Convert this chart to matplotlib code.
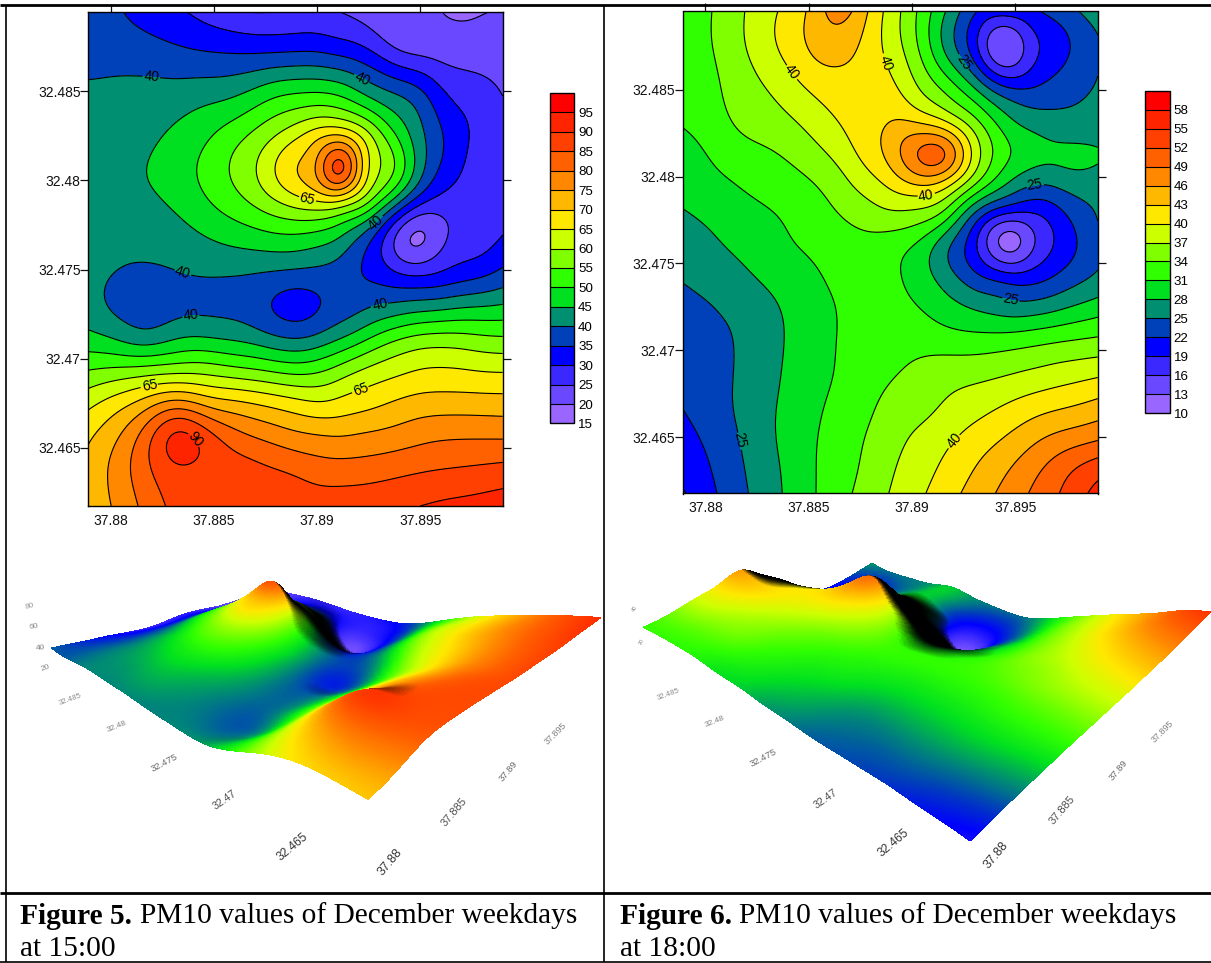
#!/usr/bin/env python3
"""PM10 values of December weekdays: contour maps and shaded surfaces, 15:00 and 18:00."""
import matplotlib
matplotlib.use("Agg")
import matplotlib.pyplot as plt
import matplotlib.tri as mtri
from matplotlib.collections import PolyCollection
from matplotlib.colors import LinearSegmentedColormap, Normalize
import numpy as np

plt.rcParams["font.family"] = ["Liberation Sans", "DejaVu Sans"]

W, H = 1211, 963

# colours of the 17 bands, low to high
band_colors = ["#9966FF", "#6A48FF", "#3A28FF", "#0000FF", "#0040B8", "#008F70",
               "#00E020", "#2FFF00", "#7FFF00", "#CCFF00", "#FFE800", "#FFB800",
               "#FF8800", "#FF6000", "#FF4000", "#FF2400", "#FF0000"]

# ── 15:00 ────────────────────────────────────────────────────────────────────
lon_15 = [37.87890, 37.88034, 37.88177, 37.88321, 37.88464, 37.88608, 37.88751, 37.88895,
          37.89039, 37.89114, 37.89182, 37.89326, 37.89469, 37.89613, 37.89756, 37.89900]
lat_15 = [32.48943, 32.48712, 32.48482, 32.48251, 32.48079, 32.47871, 32.47682, 32.47493,
          32.47304, 32.47098, 32.46926, 32.46755, 32.46585, 32.46377, 32.46175]
pm_15 = [
    [38.0, 35.5, 33.0, 31.0, 28.0, 25.5, 24.8, 26.0, 26.0, 25.0, 24.0, 21.5, 21.0, 19.9, 19.7, 20.2],
    [38.0, 38.0, 37.3, 36.1, 35.3, 34.9, 34.9, 35.2, 34.8, 33.7, 33.0, 27.8, 24.0, 23.0, 22.5, 22.0],
    [41.0, 41.3, 41.8, 42.2, 43.2, 44.5, 48.3, 50.5, 50.7, 49.5, 46.7, 41.5, 38.4, 30.5, 27.8, 25.0],
    [41.0, 42.0, 43.8, 46.2, 49.3, 53.5, 58.2, 64.2, 70.0, 70.5, 67.5, 55.0, 43.5, 35.0, 29.5, 26.0],
    [41.3, 43.0, 45.2, 48.0, 51.5, 56.5, 62.8, 70.8, 83.0, 96.0, 79.0, 60.0, 45.8, 34.0, 28.5, 26.0],
    [41.0, 42.5, 43.8, 46.0, 49.5, 53.2, 57.7, 62.3, 64.0, 62.2, 59.6, 47.5, 32.6, 27.5, 27.2, 27.7],
    [40.7, 41.0, 41.8, 43.0, 45.0, 47.0, 48.5, 49.0, 47.0, 44.7, 40.6, 29.0, 16.5, 24.0, 27.1, 30.0],
    [41.0, 40.0, 39.3, 40.0, 40.6, 40.6, 40.2, 39.5, 38.7, 37.5, 35.5, 31.6, 27.5, 29.7, 32.0, 35.5],
    [41.5, 38.5, 37.0, 38.0, 38.5, 38.0, 35.0, 32.0, 35.0, 36.5, 37.5, 40.0, 41.5, 42.5, 44.0, 45.0],
    [47.3, 45.0, 42.5, 45.6, 46.0, 44.8, 42.5, 40.5, 43.3, 45.7, 48.0, 54.0, 57.7, 58.5, 57.5, 56.5],
    [55.5, 57.0, 58.3, 59.0, 58.8, 57.0, 55.5, 53.7, 55.6, 58.0, 60.3, 63.2, 65.3, 66.0, 65.4, 65.0],
    [63.6, 67.8, 72.5, 77.0, 72.7, 71.0, 69.0, 66.7, 65.0, 66.5, 67.4, 69.6, 71.8, 72.3, 72.2, 72.0],
    [69.0, 74.3, 83.0, 92.5, 87.0, 81.0, 78.0, 75.5, 74.4, 74.0, 74.7, 75.8, 77.5, 78.7, 78.8, 78.6],
    [71.5, 77.3, 84.2, 89.3, 88.3, 87.5, 86.0, 84.3, 82.3, 82.2, 82.3, 83.2, 84.4, 85.2, 85.8, 86.6],
    [72.0, 76.0, 82.0, 86.5, 87.5, 88.0, 88.0, 88.0, 88.0, 88.3, 88.5, 89.0, 89.7, 91.0, 91.8, 93.0],
]
levels_15 = [15, 20, 25, 30, 35, 40, 45, 50, 55, 60, 65, 70, 75, 80, 85, 90, 95, 100]
ticks_15 = [15, 20, 25, 30, 35, 40, 45, 50, 55, 60, 65, 70, 75, 80, 85, 90, 95]
label_lv_15 = [40, 65, 90]
label_lon_15 = [37.88195, 37.89218, 37.89286, 37.88342, 37.88384, 37.89308, 37.88951, 37.88191, 37.89222, 37.88407]
label_lat_15 = [32.48567, 32.48565, 32.47761, 32.47474, 32.47275, 32.47298, 32.47899, 32.46854, 32.46808, 32.46547]

# ── 18:00 ────────────────────────────────────────────────────────────────────
lon_18 = [37.87891, 37.88037, 37.88182, 37.88328, 37.88492, 37.88661, 37.88789, 37.88910,
          37.89043, 37.89171, 37.89307, 37.89453, 37.89589, 37.89681, 37.89790, 37.89899]
lat_18 = [32.48951, 32.48714, 32.48500, 32.48276, 32.48140, 32.47965, 32.47809, 32.47644,
          32.47459, 32.47264, 32.47070, 32.46875, 32.46681, 32.46486, 32.46331, 32.46175]
pm_18 = [
    [32.5, 34.0, 36.8, 39.7, 43.0, 47.5, 42.8, 38.3, 33.2, 27.6, 22.0, 20.3, 21.5, 22.8, 24.7, 26.5],
    [32.5, 33.9, 36.6, 39.5, 42.9, 44.0, 41.7, 38.7, 33.7, 27.0, 20.0, 11.5, 18.3, 20.0, 22.5, 24.6],
    [32.2, 33.4, 35.5, 37.3, 40.0, 41.7, 41.9, 40.8, 36.7, 33.3, 28.6, 23.0, 22.3, 23.2, 24.4, 25.2],
    [31.0, 32.5, 34.5, 35.5, 37.2, 40.0, 41.8, 44.0, 44.5, 42.2, 36.2, 30.0, 27.7, 26.8, 26.5, 26.5],
    [29.7, 31.4, 32.8, 33.8, 35.6, 38.5, 41.5, 45.0, 51.0, 51.0, 38.7, 32.0, 29.5, 28.8, 29.0, 28.6],
    [29.0, 30.4, 31.3, 32.3, 33.6, 36.1, 38.7, 41.3, 44.0, 41.5, 34.7, 28.5, 25.5, 25.6, 26.8, 26.5],
    [28.0, 29.0, 30.2, 31.0, 32.3, 34.5, 36.0, 37.3, 36.8, 34.0, 25.3, 21.0, 19.5, 20.6, 23.5, 25.3],
    [26.4, 27.8, 29.0, 30.3, 31.5, 32.7, 33.4, 32.8, 31.0, 26.0, 19.3, 9.5, 15.5, 18.5, 21.6, 24.5],
    [25.6, 26.6, 27.7, 29.3, 30.5, 32.0, 32.4, 31.5, 29.1, 25.6, 21.5, 18.5, 19.5, 21.0, 23.1, 24.8],
    [24.0, 25.0, 26.0, 27.6, 29.6, 31.3, 32.5, 32.0, 30.8, 28.9, 27.2, 25.8, 25.6, 26.4, 27.8, 29.0],
    [23.5, 24.3, 25.4, 27.3, 29.3, 31.3, 32.3, 32.8, 32.7, 32.1, 31.8, 32.1, 32.8, 33.3, 33.8, 34.2],
    [22.8, 23.8, 25.6, 27.5, 29.5, 31.4, 32.7, 33.7, 34.9, 35.7, 36.0, 36.6, 37.4, 38.0, 38.6, 39.2],
    [22.2, 23.8, 25.7, 27.8, 29.9, 32.0, 33.4, 35.2, 36.0, 37.4, 38.7, 40.2, 41.6, 42.3, 43.0, 44.0],
    [20.7, 22.9, 25.3, 27.8, 30.3, 32.6, 34.3, 36.1, 37.8, 39.5, 41.4, 43.3, 45.5, 46.8, 47.8, 48.7],
    [20.0, 22.2, 24.9, 27.4, 30.3, 32.8, 34.7, 36.8, 38.8, 40.7, 43.0, 45.5, 48.1, 49.9, 52.0, 53.6],
    [18.7, 21.6, 24.5, 27.2, 30.2, 33.2, 35.3, 37.4, 39.6, 41.8, 44.3, 46.9, 49.5, 51.3, 53.7, 56.0],
]
levels_18 = [10, 13, 16, 19, 22, 25, 28, 31, 34, 37, 40, 43, 46, 49, 52, 55, 58, 61]
ticks_18 = [10, 13, 16, 19, 22, 25, 28, 31, 34, 37, 40, 43, 46, 49, 52, 55, 58]
label_lv_18 = [25, 40]
label_lon_18 = [37.88412, 37.88861, 37.89065, 37.89204, 37.89235, 37.89595, 37.89480, 37.88164]
label_lat_18 = [32.48603, 32.48646, 32.47893, 32.46477, 32.48649, 32.47930, 32.47290, 32.46482]

lon_ticks = [37.88, 37.885, 37.89, 37.895]
lat_ticks = [32.465, 32.47, 32.475, 32.48, 32.485]
lon_labels = ["37.88", "37.885", "37.89", "37.895"]
lat_labels = ["32.465", "32.47", "32.475", "32.48", "32.485"]

captions = ["Figure 5.", "Figure 6."]
caption_rest = ["PM10 values of December weekdays", "PM10 values of December weekdays"]
caption_time = ["at 15:00", "at 18:00"]

NF = 260       # fine grid for drawing
SIGMA = 6.0    # fine cells, takes the reading noise out of the hand-read grid


def px_axes(fig, x0, y0, x1, y1):
    return fig.add_axes([x0 / W, 1 - y1 / H, (x1 - x0) / W, (y1 - y0) / H])


def blur(z, sigma):
    n = int(3 * sigma)
    k = np.exp(-0.5 * (np.arange(-n, n + 1) / sigma) ** 2)
    k /= k.sum()
    for axis in (0, 1):
        p = np.pad(z, [(n, n) if i == axis else (0, 0) for i in (0, 1)],
                   mode="reflect", reflect_type="odd")
        z = np.apply_along_axis(lambda r: np.convolve(r, k, mode="valid"), axis, p)
    return z


def smooth(lon, lat, pm):
    # fine field from the read-off grid, with matplotlib's own cubic interpolator
    xx, yy = np.meshgrid(lon, lat)
    tri = mtri.Triangulation(xx.ravel(), yy.ravel())
    interp = mtri.CubicTriInterpolator(tri, np.array(pm).ravel(), kind="min_E")
    dx, dy = 1e-7, 1e-7
    fx = np.linspace(lon[0] + dx, lon[-1] - dx, NF)
    fy = np.linspace(lat[-1] + dy, lat[0] - dy, NF)
    z = np.ma.filled(interp(*np.meshgrid(fx, fy)), np.nan)
    return fx, fy, blur(z, SIGMA)


def contour_map(fig, box, cbox, lon, lat, pm, levels, ticks, lab_lv, lab_x, lab_y):
    ax = px_axes(fig, *box)
    fx, fy, z = smooth(lon, lat, pm)
    z = np.clip(z, levels[0] + 0.01, levels[-1] - 0.01)
    cf = ax.contourf(fx, fy, z, levels=levels, colors=band_colors)
    plain = [lv for lv in levels[1:-1] if lv not in lab_lv]
    ax.contour(fx, fy, z, levels=plain, colors="k", linewidths=0.8)
    # labelled levels get their own contour set, clabel wants it that way with manual=
    cl = ax.contour(fx, fy, z, levels=lab_lv, colors="k", linewidths=0.8)
    ax.set_xlim(lon[0], lon[-1])
    ax.set_ylim(lat[-1], lat[0])
    ax.clabel(cl, manual=list(zip(lab_x, lab_y)), fmt="%g", fontsize=10,
              inline=True, inline_spacing=1)
    ax.set_xticks(lon_ticks, lon_labels)
    ax.set_yticks(lat_ticks, lat_labels)
    ax.tick_params(top=True, right=True, length=5.5, width=0.9, labelsize=10,
                   colors="#111111", pad=0)
    ax.tick_params(axis="x", bottom=False, pad=0)
    for s in ax.spines.values():
        s.set_linewidth(1.0)

    cax = px_axes(fig, *cbox)
    cb = fig.colorbar(cf, cax=cax, ticks=ticks, drawedges=True)
    cb.dividers.set_linewidth(0.8)
    cb.outline.set_linewidth(1.0)
    cb.ax.tick_params(length=0, labelsize=9.6, pad=3)
    return ax


def surface(ov, lon, lat, pm, vmin, vmax, corners, zref, c, light):
    # ground plane homography: (u,v) unit square -> picture pixels
    F, R, B, L = [np.array(p, float) for p in corners]
    sx = F - R + B - L
    d1, d2 = R - B, L - B
    det = d1[0] * d2[1] - d2[0] * d1[1]
    g = (sx[0] * d2[1] - d2[0] * sx[1]) / det
    h = (d1[0] * sx[1] - sx[0] * d1[1]) / det
    a = R - F + g * R
    b = L - F + h * L

    fx, fy, z = smooth(lon, lat, pm)
    u, v = np.meshgrid((fx - lon[0]) / (lon[-1] - lon[0]), (fy - lat[-1]) / (lat[0] - lat[-1]))
    w = g * u + h * v + 1
    px = (a[0] * u + b[0] * v + F[0]) / w
    py = (a[1] * u + b[1] * v + F[1]) / w - c * (z - zref) / w

    # slope shading, light comes from the low-longitude side
    zs = (z - vmin) / (vmax - vmin) * light[1]
    dzu = np.gradient(zs, u[0, :], axis=1)
    dot = (1 + light[0] * dzu) / np.sqrt(1 + dzu ** 2)
    shade = np.clip(dot + light[2], 0, 1) ** light[3]

    cmap = LinearSegmentedColormap.from_list("pm", band_colors, N=512)
    rgba = cmap(Normalize(vmin, vmax)(z))
    rgba[..., :3] *= shade[..., None]

    def cell(f):
        return f[:-1, :-1]

    verts = np.stack([np.stack([px[:-1, :-1], px[:-1, 1:], px[1:, 1:], px[1:, :-1]], axis=-1),
                      np.stack([py[:-1, :-1], py[:-1, 1:], py[1:, 1:], py[1:, :-1]], axis=-1)],
                     axis=-1).reshape(-1, 4, 2)
    cols = cell(rgba).reshape(-1, 4)
    # back to front
    order = np.argsort(cell(w).ravel())[::-1]
    ov.add_collection(PolyCollection(verts[order], facecolors=cols[order], edgecolors=cols[order],
                                     linewidths=0.4, antialiaseds=False))


fig = plt.figure(figsize=(W / 100, H / 100), dpi=100, facecolor="white")

contour_map(fig, (88.4, 12, 502.6, 506), (550, 93, 574, 423.5), lon_15, lat_15, pm_15,
            levels_15, ticks_15, label_lv_15, label_lon_15, label_lat_15)
contour_map(fig, (682.8, 11.5, 1097.8, 493.5), (1145, 91, 1169.7, 413), lon_18, lat_18, pm_18,
            levels_18, ticks_18, label_lv_18, label_lon_18, label_lat_18)

# overlay in picture pixels for the surfaces and the table around the figures
ov = fig.add_axes([0, 0, 1, 1], zorder=5)
ov.set_xlim(0, W)
ov.set_ylim(H, 0)
ov.axis("off")

surface(ov, lon_15, lat_15, pm_15, 15, 100,
        corners=[(368, 856), (600, 684), (272, 572), (52, 646)], zref=40, c=1.78,
        light=(1.2, 0.45, 0.25, 1.5))
surface(ov, lon_18, lat_18, pm_18, 10, 61,
        corners=[(970, 809), (1210, 669), (872, 558), (644, 632)], zref=30, c=2.8,
        light=(1.2, 0.8, 0.25, 1.5))

# tick labels of the surfaces: text, x, y, rotation, size, grey
ticks3d = [
    ("32.485", 70, 700, 20, 5.6, "0.55"), ("32.48", 117, 727, 22, 6.0, "0.5"),
    ("32.475", 164, 763, 28, 6.8, "0.4"), ("32.47", 225, 800, 35, 7.6, "0.3"),
    ("32.465", 293, 847, 40, 8.6, "0.2"),
    ("37.88", 390, 862, 50, 9.0, "0.2"), ("37.885", 454, 812, 50, 8.0, "0.3"),
    ("37.89", 508, 771, 50, 6.8, "0.4"), ("37.895", 556, 734, 45, 6.4, "0.5"),
    ("80", 30, 606, 15, 6.0, "0.6"), ("60", 34, 627, 10, 6.0, "0.55"),
    ("40", 40, 648, 5, 6.0, "0.5"), ("20", 45, 668, 20, 6.0, "0.55"),
    ("32.485", 668, 695, 20, 5.6, "0.55"), ("32.48", 715, 722, 22, 6.0, "0.5"),
    ("32.475", 763, 758, 28, 6.8, "0.4"), ("32.47", 826, 799, 35, 7.6, "0.3"),
    ("32.465", 894, 843, 40, 8.6, "0.2"),
    ("37.88", 996, 855, 50, 9.0, "0.2"), ("37.885", 1062, 810, 50, 8.0, "0.3"),
    ("37.89", 1118, 770, 50, 6.8, "0.4"), ("37.895", 1163, 732, 45, 6.4, "0.5"),
    ("40", 635, 608, 65, 4.0, "0.55"), ("20", 642, 642, 65, 4.0, "0.55"),
]
for txt, x, y, rot, size, grey in ticks3d:
    ov.text(x, y, txt, rotation=rot, fontsize=size, color=grey, ha="center", va="center",
            rotation_mode="anchor")

# table rules
ov.plot([0, W], [5, 5], color="k", lw=2.0, solid_capstyle="butt")
ov.plot([0, W], [893, 893], color="k", lw=2.0, solid_capstyle="butt")
ov.plot([0, W], [962, 962], color="k", lw=1.2, solid_capstyle="butt")
ov.plot([6, 6], [5, 962], color="k", lw=1.2, solid_capstyle="butt")
ov.plot([604, 604], [5, 962], color="k", lw=1.2, solid_capstyle="butt")

serif = ["Liberation Serif", "DejaVu Serif"]
for x0, x1, head, rest, when in zip((20, 620), (140, 739), captions, caption_rest, caption_time):
    ov.text(x0, 916, head, family=serif, weight="bold", fontsize=21.2, va="center")
    ov.text(x1, 916, rest, family=serif, fontsize=21.2, va="center")
    ov.text(x0, 949, when, family=serif, fontsize=21.2, va="center")

fig.savefig("out.png", dpi=100)
